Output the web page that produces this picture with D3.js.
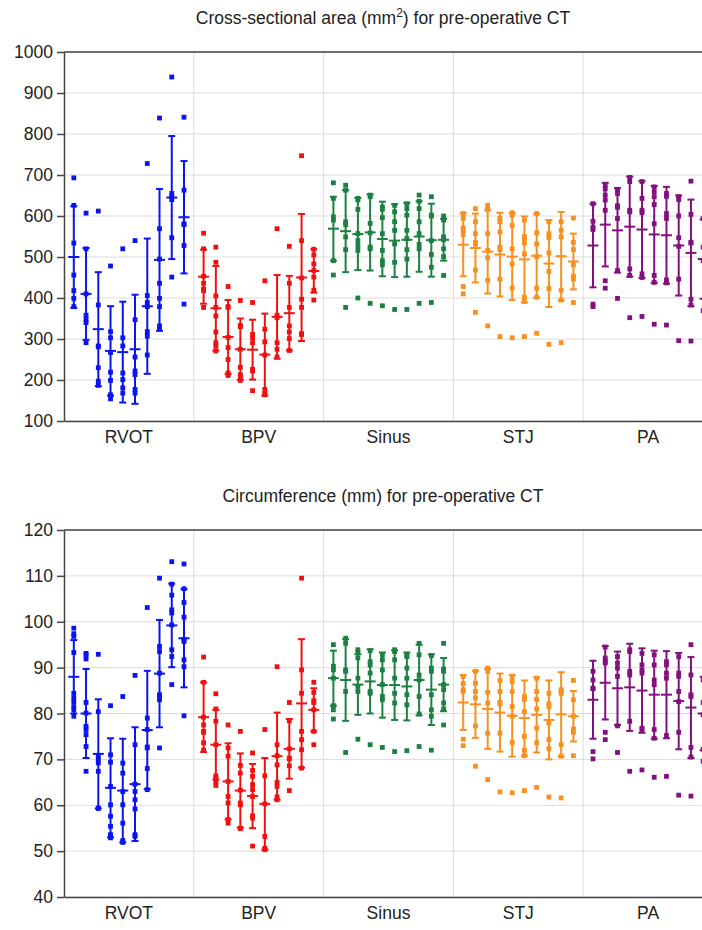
<!DOCTYPE html>
<html>
<meta charset="utf-8">
<style type="text/css">
	body { margin: 0; background: #fff; }
	text { font-family: "Liberation Sans", Arial, sans-serif; fill: #222; }
	.grid line { stroke: #dcdcdc; stroke-width: 1; }
	.axis path, .axis line { stroke: #444; stroke-width: 1.5; }
</style>
<svg width="702" height="930"></svg>
<script src="https://d3js.org/d3.v7.min.js"></script>
<script>
	var groups = ['RVOT', 'BPV', 'Sinus', 'STJ', 'PA'];
	var colors = ['#0a14f0', '#f01010', '#1b8040', '#f7901e', '#82107f'];

	// cross-sectional area (mm2): points per column, mean and SD per column
	var areaPts = [
		[[693,626,534,456,418,399,379],[607,520,410,358,348,340,291],[612,383,283,281,230,197,187],[478,318,303,267,219,199,164,154],[520,303,283,217,201,181,168],[540,347,256,222,213,177,168],[728,406,389,379,318,307,261],[839,569,495,436,399,379,332,324],[939,655,647,640,547,451],[841,663,581,579,528,385]],
		[[558,520,453,436,422,418,377],[524,487,405,377,356,317,291,283,271],[428,379,377,304,279,250,217,211],[394,333,330,275,231,213,209,199],[389,311,303,291,226,222,174],[442,324,293,261,177,168,164],[569,358,352,291,275,256],[526,436,377,332,317,301,272],[747,540,449,397,377,313,311],[519,505,483,467,451,419,395]],
		[[681,643,598,590,491,456],[675,663,586,579,549,518,377],[643,639,616,557,540,528,516,400],[651,647,582,559,524,520,387],[622,616,596,557,516,491,481,381],[626,610,586,565,532,487,372],[630,618,602,565,545,518,495,372],[651,636,618,586,557,531,520,387],[647,602,600,540,506,475,389],[600,590,549,542,520,501,455]],
		[[606,594,571,565,555,428,410],[618,586,557,536,531,468,365],[626,616,557,516,498,443,332],[594,586,561,524,518,446,306],[608,602,577,520,483,424,303],[590,550,545,534,508,402,392,306],[606,559,532,501,424,402,314],[586,557,547,510,465,423,287],[586,565,549,419,395,291],[595,536,518,481,453,446,389]],
		[[630,587,573,567,385,379],[675,666,651,639,614,442,424],[665,655,625,621,594,467,399],[694,684,614,610,471,455,352],[684,643,614,608,459,450,355],[671,659,647,628,581,455,438,336],[655,648,606,594,444,437,334],[647,640,600,547,526,446,296],[685,604,536,534,397,383,295],[594,524,491,369]]
	];
	var areaMean = [
		[500,410,324,271,268,275,380,493,645,597],
		[452,375,305,275,274,262,354,363,450,466],
		[569,563,556,560,544,540,542,550,541,542],
		[530,522,513,506,501,494,503,484,502,489],
		[528,579,565,574,567,555,553,528,510,495]
	];
	var areaSd = [
		[124,112,139,109,123,133,165,173,150,137],
		[66,103,90,75,73,100,102,91,155,53],
		[78,100,88,93,91,89,90,86,89,51],
		[77,84,102,102,106,105,102,106,108,68],
		[102,102,103,122,118,118,118,122,130,97]
	];

	// circumference (mm)
	var circPts = [
		[[98.6,97.4,96.8,93.3,84.4,83.4,82.6,81.5,80.8,79.4],[93.1,92.8,91.9,82.4,80.1,77.2,76.5,75.4,72.8,67.4],[92.9,80.4,70.7,69.9,69.2,67.4,59.4,59.3],[81.7,71.0,69.4,64.1,60.1,57.6,55.4,53.6,52.9],[83.7,69.2,67.0,63.0,60.1,56.1,52.3,51.9],[88.3,73.2,64.6,63.0,61.2,59.2,53.6,53.2],[103.1,79.0,76.5,72.7,72.5,68.0,63.4],[109.5,94.6,93.5,88.8,84.1,83.7,83.0,72.5],[113.1,108.2,105.8,102.6,101.9,99.3,93.9,92.4,86.3],[112.6,107.2,104.2,101.0,96.1,95.7,91.7,90.2,79.5]],
		[[92.3,86.8,79.2,77.5,76.1,75.9,73.6,72.0],[84.3,81.0,78.3,73.2,66.4,65.9,65.0,64.3],[77.5,72.5,70.7,65.2,61.9,60.5,56.9,56.1],[76.1,68.7,67.0,63.3,60.5,60.1,55.0,54.9],[71.4,67.6,66.3,64.5,63.4,61.9,57.7,57.2,51.1],[76.5,66.4,60.3,53.2,50.6,50.3],[90.2,73.2,70.8,68.8,65.0,64.1,61.8,61.2],[82.4,78.4,72.3,70.3,70.1,68.6,63.2],[109.5,89.5,84.4,76.1,74.3,72.1,68.1],[86.8,84.6,82.8,82.4,80.8,76.1,73.2]],
		[[95.0,90.3,89.5,87.7,81.7,80.8,78.8],[96.4,95.3,89.5,89.2,84.8,71.5],[93.9,93.3,92.1,87.7,85.9,84.8,74.4],[93.7,91.3,90.6,88.8,84.8,84.4,73.2],[92.8,91.7,89.5,86.3,83.7,83.0,72.6],[93.9,93.5,91.7,87.7,84.4,82.3,71.7],[92.8,92.4,89.9,87.7,84.1,81.9,71.9],[95.3,92.8,88.4,87.3,83.7,79.9,72.8],[92.6,89.9,89.2,84.1,80.8,79.4,72.0],[95.3,89.7,89.2,86.3,85.2,82.3,81.0,77.5]],
		[[88.1,86.5,85.2,84.8,74.4,73.0],[89.2,86.6,84.8,83.4,77.3,68.5],[89.9,89.2,84.6,82.3,75.7,65.6],[87.2,84.8,82.4,82.1,75.7,62.9],[88.1,87.0,84.8,81.5,79.4,73.7,62.7],[83.7,83.1,80.4,75.0,72.0,70.8,63.2],[87.7,84.8,83.1,81.0,76.8,73.6,63.9],[84.4,82.1,81.5,77.9,74.3,72.3,61.8],[85.2,84.8,84.4,73.2,70.7,61.6],[87.2,83.0,79.4,76.6,75.9,70.8]],
		[[89.2,87.3,85.5,85.4,71.7,70.1],[94.5,92.1,91.4,91.0,75.9,74.3],[92.4,91.0,89.9,88.1,77.3,71.5],[93.9,93.5,89.2,88.4,78.3,67.4],[93.1,90.6,89.5,88.8,76.8,76.5,67.7],[92.8,90.6,87.3,86.3,76.5,74.6,66.1],[91.3,90.6,88.8,87.7,75.2,66.3],[92.4,88.8,88.1,84.8,82.6,75.9,62.2],[95.0,88.4,84.1,83.7,72.6,70.5,62.0],[87.3,82.4,79.7,72.2,69.6]]
	];
	var circMean = [
		[88,80,71.2,63.8,63.2,64.6,76.4,88.7,99.2,96.4],
		[79.2,73.2,65.2,63.2,62,60.3,70.7,72.3,82.2,80.8],
		[87.7,87.3,86.3,87,86.2,86.2,85.9,87.3,85.2,86.3],
		[82.4,82,81,80.2,79.5,79,79.7,78.6,79.8,79.4],
		[83,86.7,85.5,85.7,85,84.1,84.1,82.7,81.3,80]
	];
	var circSd = [
		[8,9.7,11.9,10.8,11.3,12.4,12.9,11.7,9.1,10.7],
		[7.6,7.6,8.3,8.1,7,10,9.5,6.5,14,4.7],
		[6,8.9,6.6,7,7.1,7.6,7.4,7.7,7.7,5.8],
		[6,7.3,8.7,8.5,8.9,8.2,8.2,8.6,9.2,5.5],
		[8.5,8,8,9.5,9.2,9.6,9.5,10.5,11,8]
	];

	var svg = d3.select('svg'),
			left = 64, right = 713;

	var x = d3.scaleBand().domain(groups).range([left, right]);
	var xi = d3.scalePoint().domain(d3.range(10)).range([0, x.bandwidth()]).padding(0.8);

	function panel(title, yDomain, ticks, top, bottom, pts, means, sds, sup) {
		var y = d3.scaleLinear().domain(yDomain).range([bottom, top]);
		var g = svg.append('g');

		var t = g.append('text')
			.attr('x', 383).attr('y', top - 28)
			.attr('text-anchor', 'middle')
			.style('font-size', '17.5px')
			.text(title[0]);
		if (sup) {
			t.append('tspan').attr('dy', -7).style('font-size', '12px').text(sup);
			t.append('tspan').attr('dy', 7).text(title[1]);
		}

		// grid
		g.append('g').attr('class', 'grid')
			.selectAll('line').data(ticks).enter().append('line')
			.attr('x1', left).attr('x2', right)
			.attr('y1', (d) => y(d)).attr('y2', (d) => y(d));
		g.append('g').attr('class', 'grid')
			.selectAll('line').data(groups.slice(1)).enter().append('line')
			.attr('x1', (d) => x(d)).attr('x2', (d) => x(d))
			.attr('y1', top).attr('y2', bottom);

		// axes
		var ya = g.append('g').attr('class', 'axis')
			.attr('transform', 'translate(' + left + ',0)')
			.call(d3.axisLeft(y).tickValues(ticks).tickFormat(d3.format('d'))
				.tickSize(7).tickPadding(4).tickSizeOuter(0));
		ya.selectAll('text').style('font-size', '17.5px');
		var xa = g.append('g').attr('class', 'axis')
			.attr('transform', 'translate(0,' + bottom + ')')
			.call(d3.axisBottom(x).tickSize(0).tickPadding(10));
		xa.selectAll('text').style('font-size', '17.5px');
		g.append('line')
			.attr('x1', left).attr('x2', right).attr('y1', top).attr('y2', top)
			.attr('stroke', '#444').attr('stroke-width', 1.5);

		groups.forEach((grp, gi) => {
			var col = colors[gi];
			var gg = g.append('g').attr('fill', col).attr('stroke', col);
			d3.range(10).forEach((ci) => {
				var cx = x(grp) + xi(ci),
						m = means[gi][ci], s = sds[gi][ci];
				gg.append('line')
					.attr('x1', cx).attr('x2', cx)
					.attr('y1', y(m - s)).attr('y2', y(m + s))
					.attr('stroke-width', 2);
				[m - s, m + s].forEach((v) => {
					gg.append('line')
						.attr('x1', cx - 3.5).attr('x2', cx + 3.5)
						.attr('y1', y(v)).attr('y2', y(v))
						.attr('stroke-width', 2);
				});
				gg.append('line')
					.attr('x1', cx - 5.5).attr('x2', cx + 5.5)
					.attr('y1', y(m)).attr('y2', y(m))
					.attr('stroke-width', 2);
				gg.selectAll(null).data(pts[gi][ci]).enter().append('rect')
					.attr('x', cx - 2.4).attr('y', (d) => y(d) - 2.4)
					.attr('width', 4.8).attr('height', 4.8)
					.attr('stroke', 'none');
			});
		});
	}

	panel(['Cross-sectional area (mm', ') for pre-operative CT'], [100, 1000],
		d3.range(100, 1001, 100), 52, 421, areaPts, areaMean, areaSd, '2');
	panel(['Circumference (mm) for pre-operative CT'], [40, 120],
		d3.range(40, 121, 10), 530, 897, circPts, circMean, circSd, null);
</script>
</html>
